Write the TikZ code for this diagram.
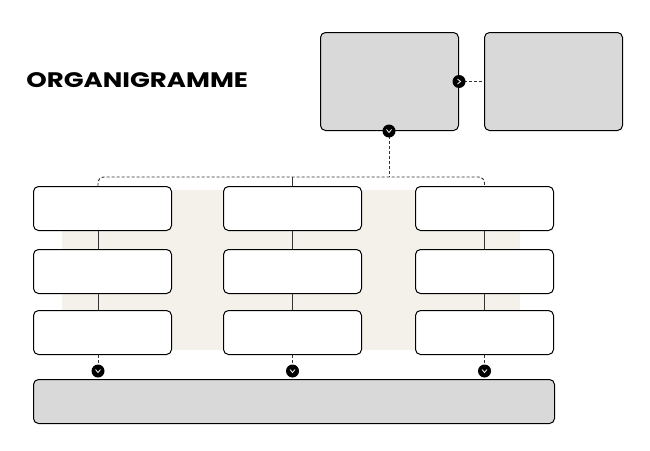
\documentclass[tikz,border=0pt]{standalone}
\usepackage{fontspec}
\newfontfamily\titlefont{Poppins}
\usetikzlibrary{positioning}
\definecolor{boxgray}{HTML}{D9D9D9}
\definecolor{beige}{HTML}{F4F0EA}
\tikzset{
  box/.style={draw=black, line width=1pt, rounded corners=5pt, anchor=north west, inner sep=0pt},
  topbox/.style={box, fill=boxgray, minimum width=138pt, minimum height=98pt},
  unitbox/.style={box, fill=white, minimum width=138pt, minimum height=44pt},
  dot/.style={circle, fill=black, minimum size=13pt, inner sep=0pt},
  link/.style={black!80, line width=0.9pt},
  dlink/.style={link, dashed, dash pattern=on 3pt off 2pt}
}
\begin{document}
\begin{tikzpicture}[x=1pt, y=-1pt]

    \useasboundingbox (0,0) rectangle (650,450);

    \fill[beige] (62,190) rectangle (520,350);

    \node[anchor=west, xscale=1.24, font=\titlefont\bfseries\fontsize{21}{24}\selectfont] (title) at (22,80) {ORGANIGRAMME};

    \node[topbox] (chef) at (320,32) {};
    \node[topbox] (adjoint) at (484,32) {};

    \foreach \c/\x in {a/33, b/223, c/415} {
      \node[unitbox] (\c1) at (\x,186) {};
      \node[unitbox] (\c2) at (\x,249) {};
      \node[unitbox] (\c3) at (\x,310) {};
    }

    \node[box, fill=boxgray, minimum width=521pt, minimum height=44pt] (base) at (33,379) {};

    \coordinate (ax) at (98,0);
    \draw[link] (a1.south -| ax) -- (a2.north -| ax) (a2.south -| ax) -- (a3.north -| ax);
    \draw[link] (b1) -- (b2) (b2) -- (b3);
    \draw[link] (c1) -- (c2) (c2) -- (c3);

    \coordinate (split) at (389,177);
    \coordinate (mid) at (b1.north |- split);
    \draw[dlink] (chef.south -| split) -- (split);
    \draw[dlink, rounded corners=6pt] (a1.north -| ax) |- (split) -| (c1.north);
    \draw[link] (mid) -- (b1.north);
    \draw[dlink] (chef.east) -- (adjoint.west);

    \node[dot] (d0) at (chef.east) {};
    \draw[white, line width=0.8pt] ([xshift=-1.5pt,yshift=-2.5pt]d0.center) -- ([xshift=1.5pt]d0.center) -- ([xshift=-1.5pt,yshift=2.5pt]d0.center);
    \node[dot] (d1) at (chef.south -| split) {};

    \node[dot] (ad) at (98,371) {};
    \draw[dlink] (a3.south -| ax) -- (ad);
    \foreach \c in {b, c} {
      \node[dot] (\c d) at (\c3.south |- 0,371) {};
      \draw[dlink] (\c3.south) -- (\c d);
    }

    \foreach \d in {d1, ad, bd, cd} {
      \draw[white, line width=0.8pt] ([xshift=-2.5pt,yshift=1.5pt]\d.center) -- ([yshift=-1.5pt]\d.center) -- ([xshift=2.5pt,yshift=1.5pt]\d.center);
    }

  \end{tikzpicture}
\end{document}
